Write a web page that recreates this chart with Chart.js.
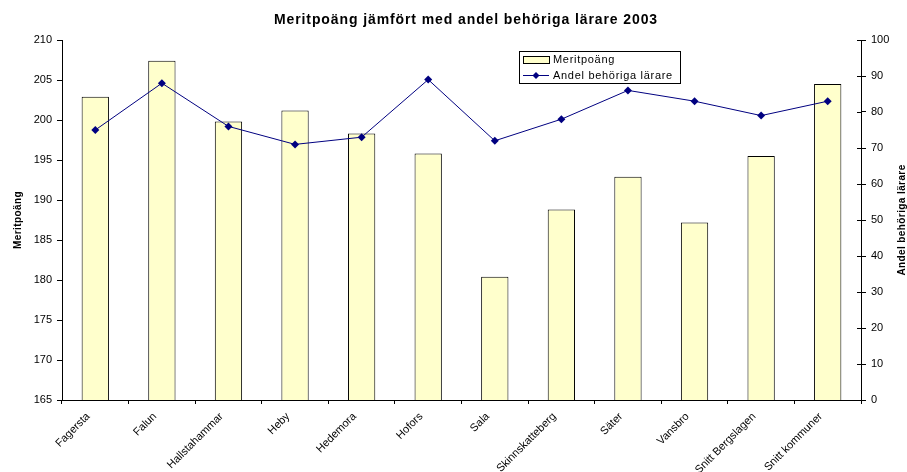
<!DOCTYPE html>
<html>
<head>
<meta charset="utf-8">
<script src="https://cdn.jsdelivr.net/npm/chart.js@4"></script>
<style>
  html, body { margin: 0; padding: 0; background: #fff; }
</style>
</head>
<body>
<canvas id="chart" width="907" height="472"></canvas>
<script>
// data
const kommuner = ['Fagersta', 'Falun', 'Hallstahammar', 'Heby', 'Hedemora', 'Hofors', 'Sala',
  'Skinnskatteberg', 'Säter', 'Vansbro', 'Snitt Bergslagen', 'Snitt kommuner'];
const meritpoang = [202.9, 207.4, 199.8, 201.2, 198.3, 195.8, 180.4, 188.8, 192.9, 187.2, 195.5, 204.5];
const andelBehoriga = [75, 88, 76, 71, 73, 89, 72, 78, 86, 83, 79, 83];
const meritTicks = { min: 165, max: 210, step: 5 };
const andelTicks = { min: 0, max: 100, step: 10 };

const FONT = 'Arial, "Liberation Sans", sans-serif';
const NAVY = '#000080';
const BAR_FILL = '#FFFFCC';

// title, axis titles, inner half of right ticks and the boxed legend
const decorations = {
  id: 'decorations',
  afterDraw(chart) {
    const ctx = chart.ctx;
    const area = chart.chartArea;
    ctx.save();
    ctx.fillStyle = '#000';
    ctx.textBaseline = 'middle';

    ctx.font = 'bold 14px ' + FONT;
    ctx.textAlign = 'center';
    ctx.letterSpacing = '0.9px';
    ctx.fillText('Meritpoäng jämfört med andel behöriga lärare 2003', 466, 20);

    ctx.font = 'bold 10px ' + FONT;
    ctx.letterSpacing = '0.4px';
    ctx.save();
    ctx.translate(18, (area.top + area.bottom) / 2);
    ctx.rotate(-Math.PI / 2);
    ctx.fillText('Meritpoäng', 0, 0);
    ctx.restore();
    ctx.save();
    ctx.translate(902, (area.top + area.bottom) / 2);
    ctx.rotate(-Math.PI / 2);
    ctx.fillText('Andel behöriga lärare', 0, 0);
    ctx.restore();

    // right axis ticks cross the axis line
    const y1 = chart.scales.y1;
    ctx.strokeStyle = '#000';
    ctx.lineWidth = 1;
    ctx.beginPath();
    y1.ticks.forEach(t => {
      const py = Math.round(y1.getPixelForValue(t.value)) + 0.5;
      ctx.moveTo(area.right - 4, py);
      ctx.lineTo(area.right, py);
    });
    ctx.stroke();

    // legend
    const lx = 519, ly = 51, lw = 161, lh = 32;
    ctx.fillStyle = '#fff';
    ctx.fillRect(lx, ly, lw, lh);
    ctx.strokeRect(lx + 0.5, ly + 0.5, lw, lh);

    ctx.fillStyle = BAR_FILL;
    ctx.fillRect(lx + 4, ly + 5, 26, 7);
    ctx.strokeRect(lx + 4.5, ly + 5.5, 26, 7);

    ctx.strokeStyle = NAVY;
    ctx.beginPath();
    ctx.moveTo(lx + 4, ly + 24.5);
    ctx.lineTo(lx + 30, ly + 24.5);
    ctx.stroke();
    ctx.fillStyle = NAVY;
    ctx.beginPath();
    ctx.moveTo(lx + 17, ly + 21);
    ctx.lineTo(lx + 20.5, ly + 24.5);
    ctx.lineTo(lx + 17, ly + 28);
    ctx.lineTo(lx + 13.5, ly + 24.5);
    ctx.closePath();
    ctx.fill();

    ctx.fillStyle = '#000';
    ctx.font = '11px ' + FONT;
    ctx.letterSpacing = '0.7px';
    ctx.textAlign = 'left';
    ctx.fillText('Meritpoäng', lx + 34, ly + 8.5);
    ctx.fillText('Andel behöriga lärare', lx + 34, ly + 24.5);
    ctx.restore();
  }
};

new Chart(document.getElementById('chart'), {
  type: 'bar',
  data: {
    labels: kommuner,
    datasets: [
      {
        type: 'bar',
        label: 'Meritpoäng',
        data: meritpoang,
        yAxisID: 'y',
        backgroundColor: BAR_FILL,
        borderColor: '#000',
        borderWidth: 1,
        barPercentage: 0.41,
        categoryPercentage: 1,
        order: 2
      },
      {
        type: 'line',
        label: 'Andel behöriga lärare',
        data: andelBehoriga,
        yAxisID: 'y1',
        borderColor: NAVY,
        backgroundColor: NAVY,
        borderWidth: 1,
        pointStyle: 'rectRot',
        pointRadius: 4,
        pointBorderWidth: 0,
        tension: 0,
        order: 1
      }
    ]
  },
  options: {
    responsive: false,
    animation: false,
    layout: { padding: { top: 40, left: 0, right: 0, bottom: 0 } },
    plugins: {
      legend: { display: false },
      title: { display: false },
      tooltip: { enabled: false }
    },
    scales: {
      x: {
        grid: { display: true, drawOnChartArea: false, drawTicks: true, tickLength: 4, color: '#000', offset: true },
        border: { display: true, color: '#000' },
        ticks: { color: '#000', font: { family: FONT, size: 11 }, minRotation: 45, maxRotation: 45,
          autoSkip: false, padding: 6, labelOffset: -7 },
        afterFit(s) { s.height = 72; }
      },
      y: {
        position: 'left',
        min: meritTicks.min,
        max: meritTicks.max,
        grid: { drawOnChartArea: false, drawTicks: true, tickLength: 5, color: '#000' },
        border: { display: true, color: '#000' },
        ticks: { stepSize: meritTicks.step, color: '#000', font: { family: FONT, size: 11 }, padding: 5 },
        afterFit(s) { s.width = 62; }
      },
      y1: {
        position: 'right',
        min: andelTicks.min,
        max: andelTicks.max,
        grid: { drawOnChartArea: false, drawTicks: true, tickLength: 5, color: '#000' },
        border: { display: true, color: '#000' },
        ticks: { stepSize: andelTicks.step, color: '#000', font: { family: FONT, size: 11 }, padding: 5 },
        afterFit(s) { s.width = 46; }
      }
    }
  },
  plugins: [decorations]
});
</script>
</body>
</html>
